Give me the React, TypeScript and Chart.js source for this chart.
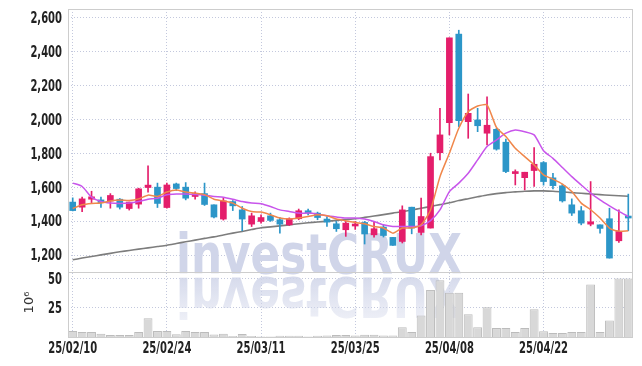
import React, { useEffect, useRef } from 'react';
import { Chart, registerables } from 'chart.js';
Chart.register(...registerables);

const dates = [
  '25/02/10','25/02/11','25/02/12','25/02/13','25/02/14','25/02/17','25/02/18','25/02/19','25/02/20','25/02/21',
  '25/02/24','25/02/25','25/02/26','25/02/27','25/02/28','25/03/04','25/03/05','25/03/06','25/03/07','25/03/10',
  '25/03/11','25/03/12','25/03/13','25/03/14','25/03/17','25/03/18','25/03/19','25/03/20','25/03/21','25/03/24',
  '25/03/25','25/03/26','25/03/27','25/03/28','25/03/31','25/04/01','25/04/02','25/04/03','25/04/04','25/04/07',
  '25/04/08','25/04/09','25/04/10','25/04/11','25/04/14','25/04/15','25/04/16','25/04/17','25/04/18','25/04/21',
  '25/04/22','25/04/23','25/04/24','25/04/25','25/04/28','25/04/29','25/04/30','25/05/02','25/05/07','25/05/08',
];

const opens = [1512,1482,1529,1525,1518,1529,1474,1500,1598,1600,1480,1619,1600,1545,1562,1496,1412,1515,1466,1382,
  1398,1431,1408,1378,1414,1461,1447,1412,1384,1349,1371,1392,1319,1365,1304,1280,1482,1333,1359,1803,
  1980,2502,1986,1996,1918,1941,1865,1680,1656,1698,1745,1655,1608,1496,1461,1382,1378,1414,1284,1425];
const highs = [1537,1541,1576,1541,1562,1533,1512,1594,1725,1624,1624,1624,1627,1572,1624,1496,1535,1521,1486,1447,
  1437,1447,1421,1419,1471,1471,1453,1427,1398,1398,1398,1398,1396,1375,1304,1490,1482,1535,1800,2065,
  2480,2525,2149,2065,2133,1947,1884,1702,1688,1833,1751,1682,1618,1531,1486,1633,1378,1476,1466,1559];
const lows = [1460,1456,1509,1480,1476,1471,1465,1476,1571,1480,1476,1580,1525,1529,1492,1418,1406,1462,1343,1368,
  1388,1398,1329,1374,1408,1437,1408,1368,1339,1310,1351,1265,1306,1306,1257,1271,1325,1319,1359,1760,
  1908,1957,1888,1927,1849,1818,1686,1613,1584,1604,1612,1590,1512,1433,1378,1372,1329,1182,1274,1343];
const closes = [1462,1531,1543,1509,1551,1482,1512,1590,1612,1504,1613,1592,1535,1562,1498,1424,1519,1490,1412,1431,
  1421,1404,1382,1414,1461,1447,1421,1394,1355,1388,1380,1324,1355,1315,1257,1466,1359,1427,1780,1908,
  2480,1992,2035,1962,1965,1824,1692,1690,1688,1735,1633,1609,1519,1447,1388,1396,1357,1182,1339,1418];

// volume in millions of shares (10^6)
const volumes = [5.1,4.3,4.3,2.8,1.7,1.7,1.7,4.3,16.2,5.1,5.1,2.4,5.1,4.3,4.3,2.2,2.8,0.8,2.6,0.8,
  0.5,0.5,1.0,1.0,1.0,0.5,1.0,1.2,1.7,1.7,1.2,2.0,2.0,1.2,1.2,8.5,4.3,18.6,40.6,49.0,
  38.2,38.2,19.6,8.5,25.6,7.7,7.7,4.3,7.7,23.9,5.0,3.4,3.4,4.3,4.3,45.2,4.3,14.3,50.3,50.3];

const maShort = [1474,1496,1504,1506,1519,1524,1521,1531,1553,1545,1571,1584,1571,1565,1556,1529,1519,1506,1476,1456,
  1453,1437,1418,1412,1418,1427,1437,1431,1412,1402,1392,1384,1368,1359,1329,1359,1359,1378,1466,1662,
  1800,1947,2045,2078,2084,1952,1898,1829,1780,1731,1672,1647,1618,1574,1506,1467,1418,1359,1341,1343];
const maMid = [1624,1604,1541,1515,1506,1504,1506,1515,1529,1535,1555,1559,1559,1557,1553,1545,1541,1529,1515,1506,
  1502,1486,1466,1457,1447,1447,1441,1431,1424,1418,1418,1412,1398,1378,1368,1368,1368,1373,1403,1466,
  1574,1624,1682,1761,1839,1878,1918,1937,1927,1908,1815,1770,1716,1662,1613,1565,1525,1490,1457,1427];
const maLong = [1172,1182,1191,1201,1210,1219,1227,1235,1242,1250,1258,1268,1278,1288,1298,1307,1318,1329,1339,1350,
  1361,1366,1372,1378,1384,1390,1395,1399,1404,1409,1414,1422,1430,1438,1447,1455,1465,1476,1486,1497,
  1508,1521,1532,1543,1554,1562,1568,1572,1576,1578,1578,1576,1572,1568,1564,1560,1556,1552,1549,1546];

const priceTicks = [1200, 1400, 1600, 1800, 2000, 2200, 2400, 2600];
const volumeTicks = [25, 50];
const labelEvery = 10;

const UP = 'rgb(228,30,107)';
const DOWN = 'rgb(44,150,200)';
const LABEL_FONT = "bold 15px 'DejaVu Sans Condensed'";
const LABEL_SX = 0.74;
const GRID = 'rgba(175,182,210,0.75)';

const candleColors = opens.map((o, i) => (closes[i] >= o ? UP : DOWN));

function drawLabel(ctx: CanvasRenderingContext2D, text: string, x: number, y: number, align: CanvasTextAlign) {
  ctx.save();
  ctx.translate(x, y);
  ctx.scale(LABEL_SX, 1);
  ctx.font = LABEL_FONT;
  ctx.fillStyle = '#222';
  ctx.textAlign = align;
  ctx.textBaseline = 'middle';
  ctx.fillText(text, 0, 0);
  ctx.restore();
}

const decor = {
  id: 'decor',
  beforeDatasetsDraw(chart: any) {
    const { ctx, chartArea } = chart;
    const yScale = chart.scales.y;
    ctx.save();
    ctx.beginPath();
    ctx.rect(chartArea.left, chartArea.top, chartArea.width, chartArea.height);
    ctx.clip();
    const text = 'investCRUX';
    ctx.font = "bold 55px 'DejaVu Sans'";
    const w = ctx.measureText(text).width;
    const sx = 286 / w;
    const x0 = chartArea.left + 108;
    const base = yScale.bottom + 1;
    ctx.textBaseline = 'alphabetic';
    ctx.save();
    ctx.translate(x0, base);
    ctx.scale(sx, 1);
    ctx.fillStyle = 'rgb(208,213,233)';
    ctx.fillText(text, 0, 0);
    ctx.restore();
    ctx.save();
    ctx.translate(x0, base + 5);
    ctx.scale(sx, -1);
    const g = ctx.createLinearGradient(0, 0, 0, -44);
    g.addColorStop(0, 'rgba(208,213,233,0.85)');
    g.addColorStop(1, 'rgba(208,213,233,0.35)');
    ctx.fillStyle = g;
    ctx.fillText(text, 0, 0);
    ctx.restore();
    ctx.restore();
  },
  afterDraw(chart: any) {
    const { ctx, chartArea } = chart;
    const yScale = chart.scales.y;
    const vScale = chart.scales.yv;
    const xScale = chart.scales.x;
    ctx.save();
    ctx.strokeStyle = 'rgb(205,205,205)';
    ctx.lineWidth = 1;
    ctx.strokeRect(chartArea.left + 0.5, chartArea.top + 0.5, chartArea.width - 1, chartArea.height);
    ctx.beginPath();
    ctx.moveTo(chartArea.left, Math.round(yScale.bottom) + 0.5);
    ctx.lineTo(chartArea.right, Math.round(yScale.bottom) + 0.5);
    ctx.stroke();
    ctx.restore();

    const lx = chartArea.left - 6;
    priceTicks.forEach((v) => drawLabel(ctx, v.toLocaleString('en-US'), lx, yScale.getPixelForValue(v) + 1.5, 'right'));
    volumeTicks.forEach((v) => drawLabel(ctx, String(v), lx, vScale.getPixelForValue(v) + 1.5, 'right'));
    dates.forEach((d, i) => {
      if (i % labelEvery === 0) drawLabel(ctx, d, xScale.getPixelForValue(i), chartArea.bottom + 12, 'center');
    });

    ctx.save();
    ctx.translate(chartArea.left - 38, (vScale.top + vScale.bottom) / 2 - 2);
    ctx.rotate(-Math.PI / 2);
    ctx.fillStyle = '#333';
    ctx.font = "13px 'DejaVu Sans'";
    ctx.textAlign = 'center';
    ctx.textBaseline = 'middle';
    ctx.fillText('10\u2076', 0, 0);
    ctx.restore();
  },
};

export default function App() {
  const ref = useRef<HTMLCanvasElement>(null);
  useEffect(() => {
    const chart = new Chart(ref.current as HTMLCanvasElement, {
      type: 'bar',
      data: {
        labels: dates,
        datasets: [
          { type: 'line', label: 'MA short', data: maShort, yAxisID: 'y', borderColor: 'rgb(240,135,75)', borderWidth: 1.5, pointRadius: 0, tension: 0.2, order: 0 },
          { type: 'line', label: 'MA mid', data: maMid, yAxisID: 'y', borderColor: 'rgb(200,85,235)', borderWidth: 1.5, pointRadius: 0, tension: 0.2, order: 0 },
          { type: 'line', label: 'MA long', data: maLong, yAxisID: 'y', borderColor: 'rgb(125,125,125)', borderWidth: 1.6, pointRadius: 0, tension: 0.2, order: 3 },
          { type: 'bar', label: 'wick', data: lows.map((l, i) => [l, highs[i]]), yAxisID: 'y', backgroundColor: candleColors, barThickness: 1, grouped: false, order: 2 },
          { type: 'bar', label: 'body', data: opens.map((o, i) => [o, closes[i]]), yAxisID: 'y', backgroundColor: candleColors, barThickness: 6, minBarLength: 2, grouped: false, order: 1 },
          { type: 'bar', label: 'volume', data: volumes, yAxisID: 'yv', backgroundColor: 'rgb(216,216,216)', borderColor: 'rgb(188,188,188)', borderWidth: 1, barPercentage: 0.94, categoryPercentage: 1, grouped: false, order: 4 },
        ] as any,
      },
      options: {
        responsive: false,
        animation: false,
        devicePixelRatio: 1,
        events: [],
        layout: { padding: { top: 9, right: 9, left: 0, bottom: 0 } },
        plugins: { legend: { display: false }, tooltip: { enabled: false } },
        scales: {
          x: {
            type: 'category',
            offset: true,
            grid: { offset: false, color: GRID, drawTicks: false },
            border: { display: false, dash: [1, 2] },
            ticks: { display: false, autoSkip: false, maxRotation: 0 },
            afterBuildTicks: (s: any) => { s.ticks = s.ticks.filter((t: any) => t.value % labelEvery === 0); },
            afterFit: (s: any) => { s.height = 29; },
          },
          yv: {
            type: 'linear',
            position: 'left',
            stack: 'panels',
            stackWeight: 65,
            min: 0,
            max: 56,
            grid: { color: GRID, drawTicks: false },
            border: { display: false, dash: [1, 2] },
            ticks: { display: false },
            afterBuildTicks: (s: any) => { s.ticks = volumeTicks.map((v) => ({ value: v })); },
            afterFit: (s: any) => { s.width = 68; },
          },
          y: {
            type: 'linear',
            position: 'left',
            stack: 'panels',
            stackWeight: 263,
            min: 1100,
            max: 2650,
            grid: { color: GRID, drawTicks: false },
            border: { display: false, dash: [1, 2] },
            ticks: { display: false },
            afterBuildTicks: (s: any) => { s.ticks = priceTicks.map((v) => ({ value: v })); },
            afterFit: (s: any) => { s.width = 68; },
          },
        } as any,
      },
      plugins: [decor],
    } as any);
    return () => chart.destroy();
  }, []);
  return (
    <div style={{ position: 'fixed', left: 0, top: 0, width: 642, height: 366, background: '#fff' }}>
      <canvas ref={ref} width={642} height={366} style={{ display: 'block', width: 642, height: 366 }} />
    </div>
  );
}
